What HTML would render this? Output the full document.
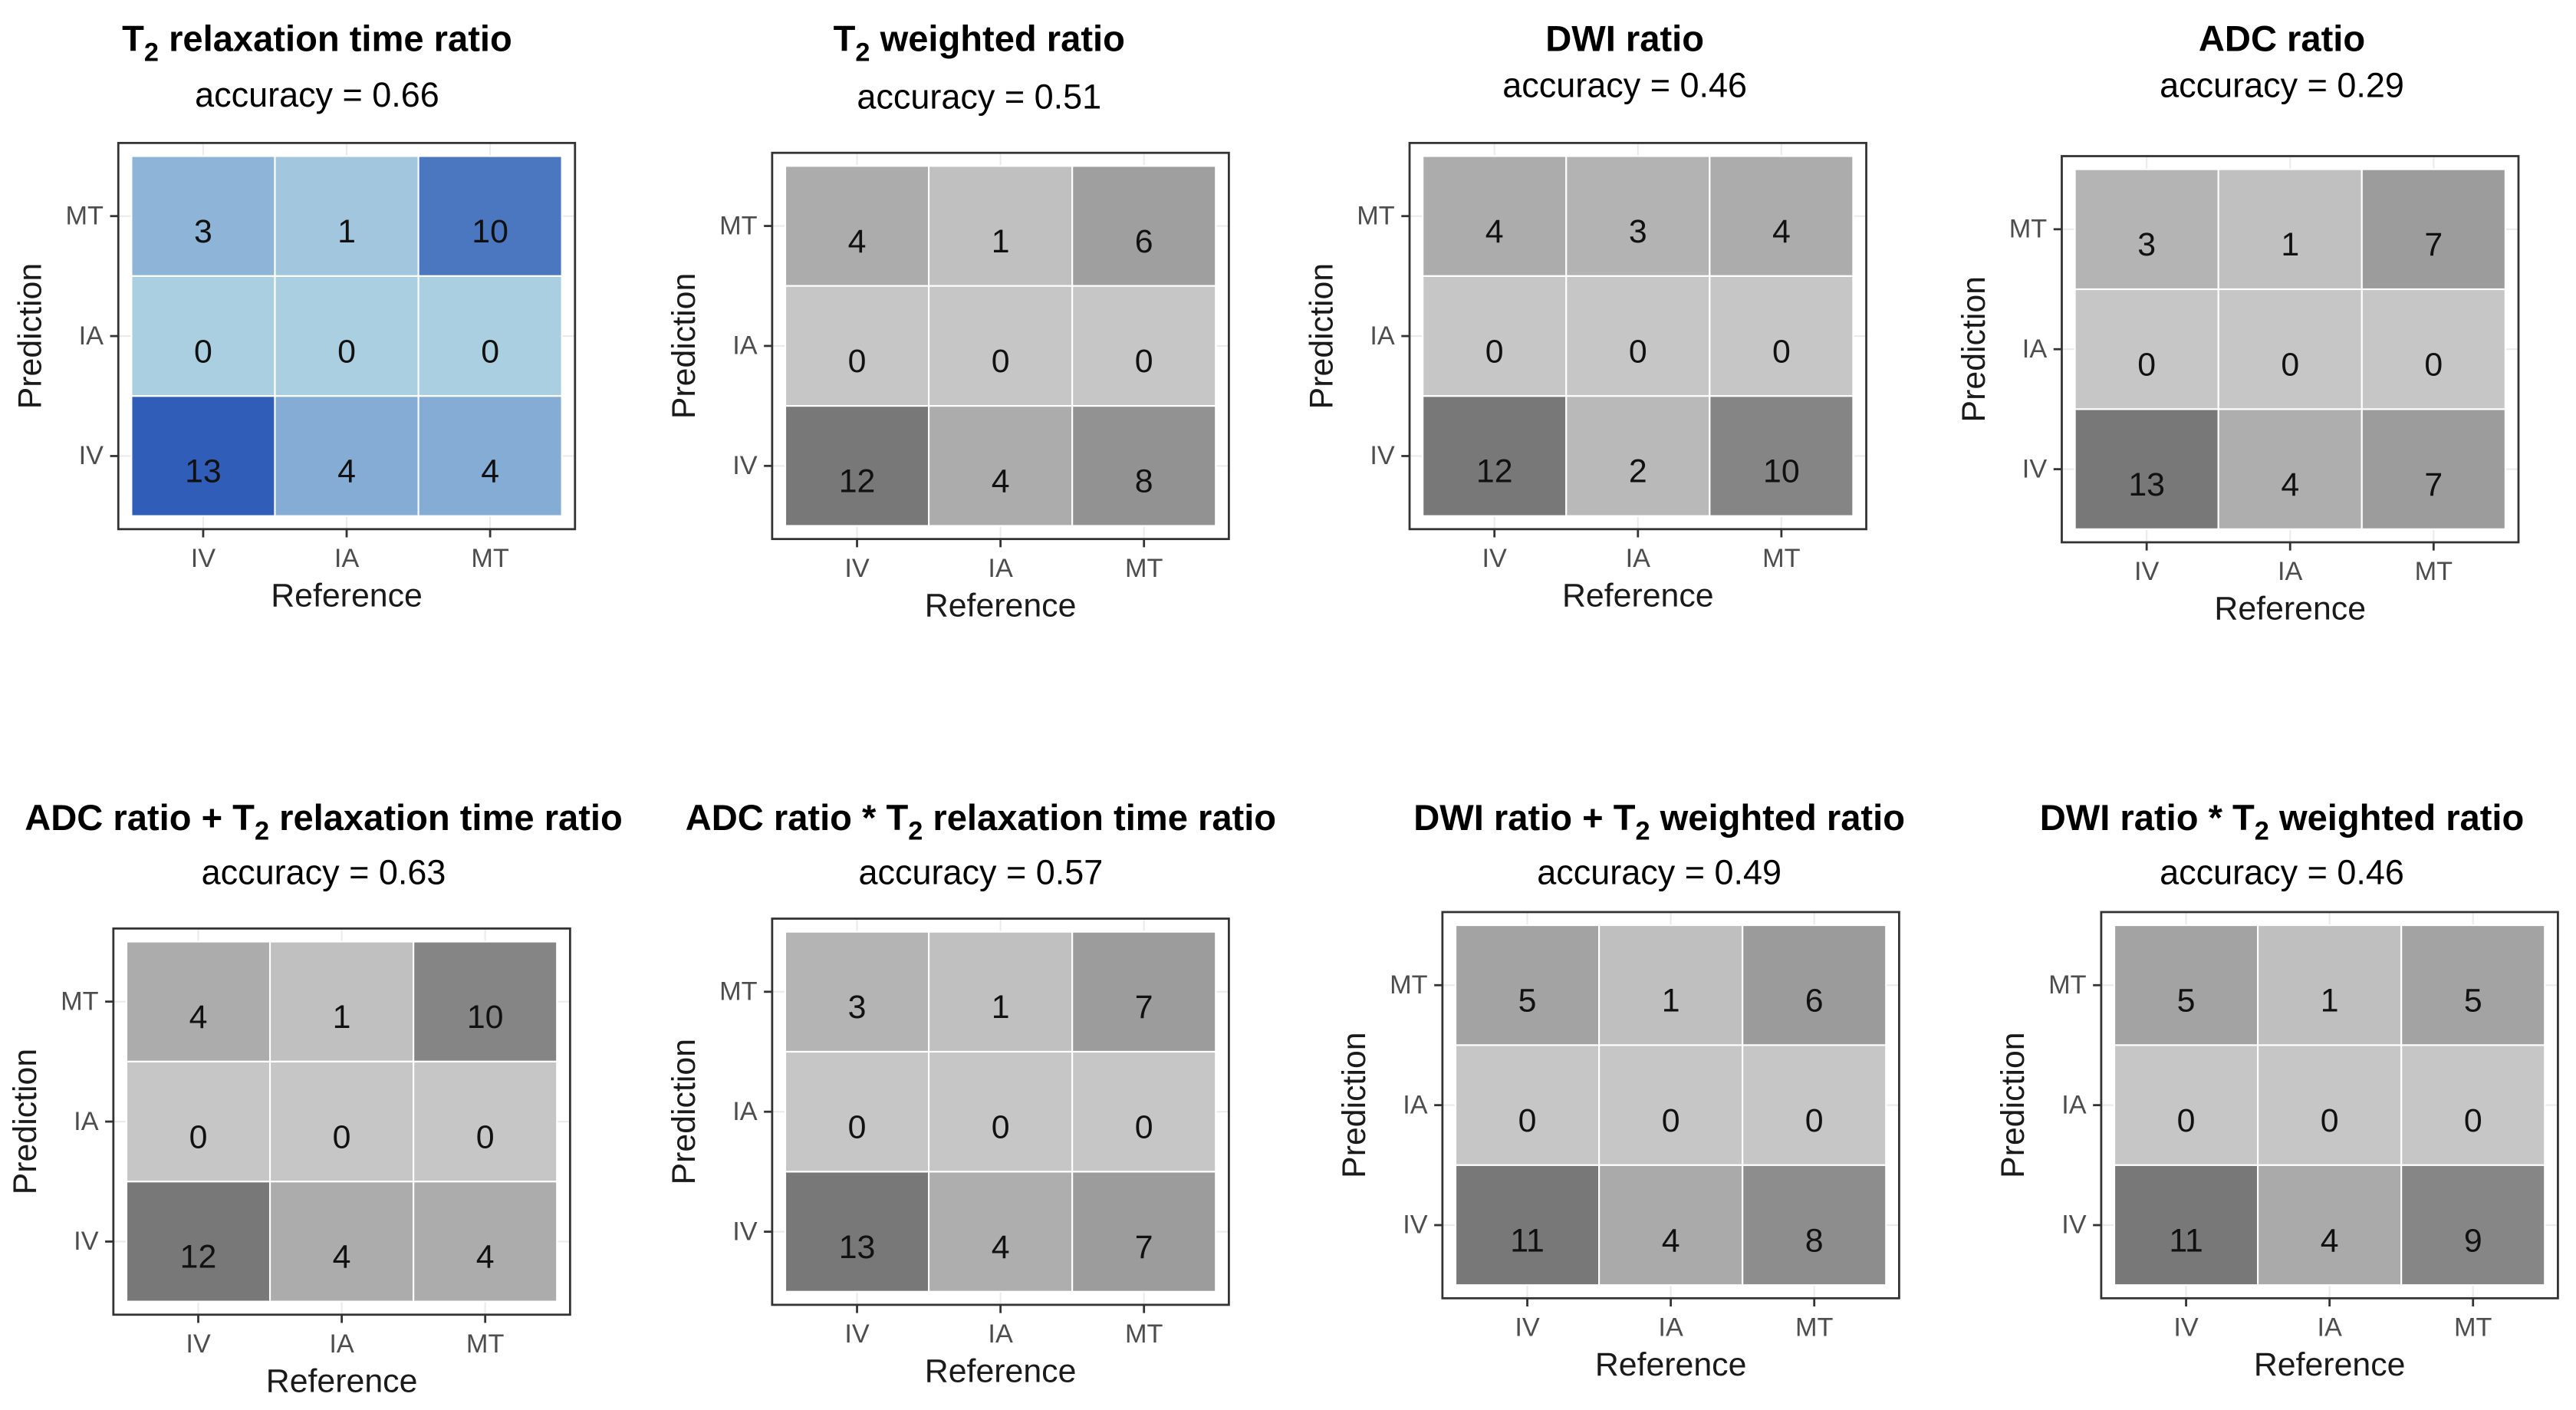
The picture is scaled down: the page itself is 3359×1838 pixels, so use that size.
<!DOCTYPE html>
<html><head><meta charset="utf-8"><style>
html,body{margin:0;padding:0;background:#fff;}
svg{display:block;}
text{font-family:"Liberation Sans",Arial,sans-serif;}
</style></head><body>
<svg id="fig" width="3359" height="1838" viewBox="0 0 1568 858" xmlns="http://www.w3.org/2000/svg"></svg>
<script>
// Data (rows top to bottom: MT, IA, IV; columns: IV, IA, MT)
const refCats = ["IV","IA","MT"];
const predCats = ["MT","IA","IV"];
const accuracies = ["0.66","0.51","0.46","0.29","0.63","0.57","0.49","0.46"];
const m1 = [[3,1,10],[0,0,0],[13,4,4]];
const m2 = [[4,1,6],[0,0,0],[12,4,8]];
const m3 = [[4,3,4],[0,0,0],[12,2,10]];
const m4 = [[3,1,7],[0,0,0],[13,4,7]];
const m5 = [[4,1,10],[0,0,0],[12,4,4]];
const m6 = [[3,1,7],[0,0,0],[13,4,7]];
const m7 = [[5,1,6],[0,0,0],[11,4,8]];
const m8 = [[5,1,5],[0,0,0],[11,4,9]];
const matrices = [m1,m2,m3,m4,m5,m6,m7,m8];
const titles = [
  ["","T","2"," relaxation time ratio"],
  ["","T","2"," weighted ratio"],
  ["DWI ratio","","",""],
  ["ADC ratio","","",""],
  ["ADC ratio + ","T","2"," relaxation time ratio"],
  ["ADC ratio  * ","T","2"," relaxation time ratio"],
  ["DWI ratio +  ","T","2"," weighted ratio"],
  ["DWI ratio *  ","T","2"," weighted ratio"]
];
// layout (figure units)
const layout = [
  {fx:72, fy:87, tx:193, ty:23, ay:57},
  {fx:470,fy:93, tx:596, ty:23, ay:58},
  {fx:858,fy:87, tx:989, ty:23, ay:51},
  {fx:1255,fy:95,tx:1389,ty:23, ay:51},
  {fx:69, fy:565,tx:197, ty:497,ay:530},
  {fx:470,fy:559,tx:597, ty:497,ay:530},
  {fx:878,fy:555,tx:1010,ty:497,ay:530},
  {fx:1279,fy:555,tx:1389,ty:497,ay:530}
];
const NS="http://www.w3.org/2000/svg";
const svg=document.getElementById('fig');
function el(tag,attrs,parent,txt){const e=document.createElementNS(NS,tag);for(const k in attrs)e.setAttribute(k,attrs[k]);if(txt!==undefined)e.textContent=txt;(parent||svg).appendChild(e);return e;}
const FW=278, FH=235, PAD=8;
matrices.forEach((m,pi)=>{
  const L=layout[pi];
  const blue = pi===0;
  const g=el('g',{});
  
  
  const x0=L.fx+PAD, y0=L.fy+PAD, cw=(FW-2*PAD)/3, ch=(FH-2*PAD)/3;
  const xs=i=>x0+cw*(i+0.5), ys=j=>y0+ch*(j+0.5);
  for(let i=0;i<3;i++){
    const gl=el('line',{x1:xs(i),x2:xs(i),y1:L.fy,y2:L.fy+FH,stroke:'#ebebeb','stroke-width':1},g);
    
    
    const gh=el('line',{x1:L.fx,x2:L.fx+FW,y1:ys(i),y2:ys(i),stroke:'#ebebeb','stroke-width':1},g);
    
    
  }
  let mx=0; m.forEach(r=>r.forEach(v=>{if(v>mx)mx=v;}));
  m.forEach((row,j)=>row.forEach((v,i)=>{
    const t=v/mx;
    let fill;
    if(blue){const lo=[170,207,224],hi=[47,93,184];fill='rgb('+lo.map((c,k)=>Math.round(c+(hi[k]-c)*t)).join(',')+')';}
    else{const c=Math.round(198+(120-198)*t);fill='rgb('+c+','+c+','+c+')';}
    const r=el('rect',{x:x0+cw*i,y:y0+ch*j,width:cw,height:ch,fill:fill,stroke:'#fff','stroke-width':1},g);
    
    
    const tx=el('text',{x:xs(i),y:ys(j)+16,'text-anchor':'middle','font-size':20,fill:'#111'},g,String(v));
    
    
  }));
  const fr=el('rect',{x:L.fx,y:L.fy,width:FW,height:FH,fill:'none',stroke:'#333','stroke-width':1.3},g);
  
  
  refCats.forEach((c,i)=>{
    const tk=el('line',{x1:xs(i),x2:xs(i),y1:L.fy+FH,y2:L.fy+FH+5,stroke:'#333','stroke-width':1.3},g);
    
    
    const lb=el('text',{x:xs(i),y:L.fy+FH+23,'text-anchor':'middle','font-size':16,fill:'#4d4d4d'},g,c);
    
    
  });
  predCats.forEach((c,j)=>{
    const tk=el('line',{x1:L.fx-5,x2:L.fx,y1:ys(j),y2:ys(j),stroke:'#333','stroke-width':1.3},g);
    
    
    const lb=el('text',{x:L.fx-9,y:ys(j)+5,'text-anchor':'end','font-size':16,fill:'#4d4d4d'},g,c);
    
    
  });
  const xt=el('text',{x:L.fx+FW/2,y:L.fy+FH+47,'text-anchor':'middle','font-size':20,fill:'#1a1a1a'},g,'Reference');
  
  
  const yx=L.fx-47, yy=L.fy+FH/2;
  const yt=el('text',{x:yx,y:yy,'text-anchor':'middle','font-size':20,fill:'#1a1a1a',transform:'rotate(-90 '+yx+' '+yy+')'},g,'Prediction');
  
  
  const T=titles[pi];
  const tt=el('text',{x:L.tx,y:L.ty+8,'text-anchor':'middle','font-size':22,'font-weight':'bold',fill:'#000'},g);
  
  
  if(T[0])el('tspan',{},tt,T[0]);
  if(T[1]){el('tspan',{},tt,T[1]);el('tspan',{dy:6,'font-size':16},tt,T[2]);el('tspan',{dy:-6},tt,T[3]);}
  const at=el('text',{x:L.tx,y:L.ay+8,'text-anchor':'middle','font-size':21,fill:'#000'},g,'accuracy = '+accuracies[pi]);
  
  
});
</script>
</body></html>
